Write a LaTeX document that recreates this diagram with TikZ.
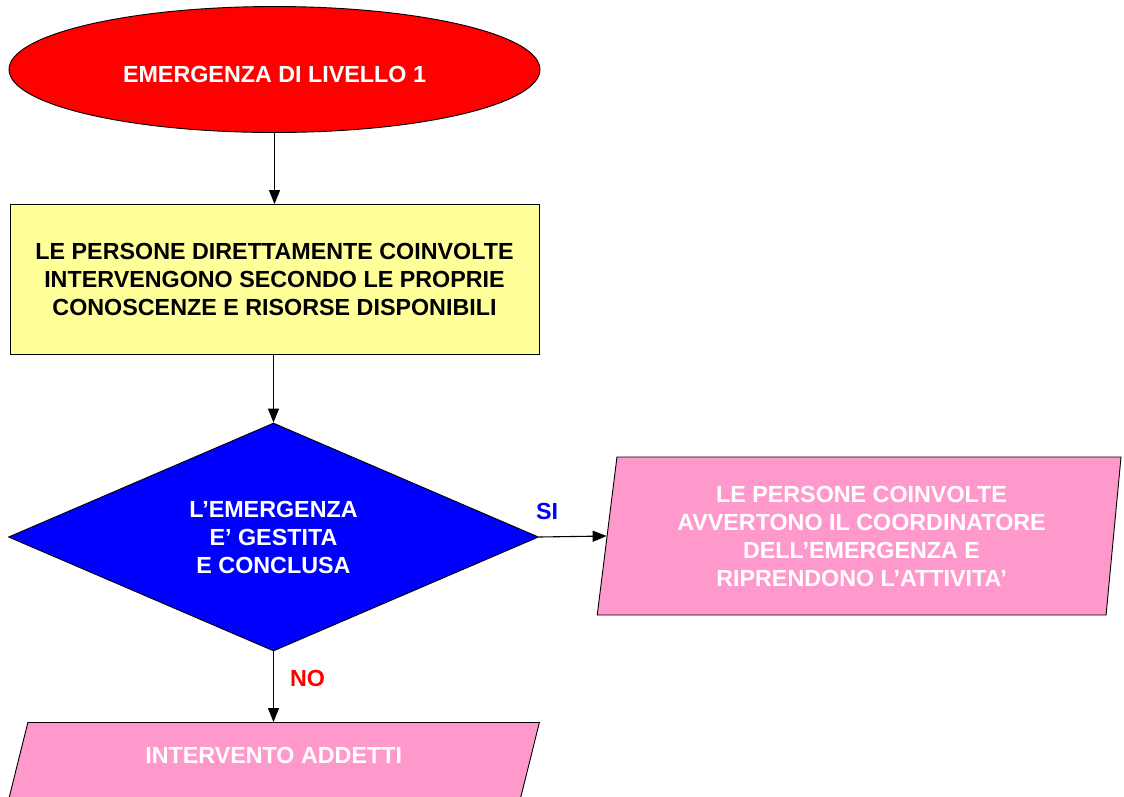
\documentclass[tikz,border=0pt]{standalone}
\usepackage{fontspec}
\setmainfont{Liberation Sans}
\usetikzlibrary{shapes.geometric,arrows.meta}
\definecolor{giallo}{HTML}{FFFF99}
\definecolor{rosa}{HTML}{FF99CC}
\begin{document}
\begin{tikzpicture}[x=1pt,y=-1pt,
  testo/.style={font=\fontsize{23.3}{28}\selectfont\bfseries, align=center, inner sep=0pt},
  blocco/.style={testo, draw=black, line width=0.9pt},
  parall/.style={blocco, trapezium, trapezium stretches=true, fill=rosa, text=white},
  freccia/.style={-{Triangle[length=14pt,width=11pt]}, line width=1.1pt}]
\clip (0,0) rectangle (1124,796);
\node[blocco, ellipse, fill=red, text=white, minimum width=531pt, minimum height=126pt,
  text height=25pt, text depth=0pt] (livello) at (274.5,69.5) {EMERGENZA DI LIVELLO 1};
\node[blocco, rectangle, fill=giallo, minimum width=529pt, minimum height=150pt] (persone) at (274.5,279.5)
  {LE PERSONE DIRETTAMENTE COINVOLTE\\INTERVENGONO SECONDO LE PROPRIE\\CONOSCENZE E RISORSE DISPONIBILI};
\node[blocco, diamond, aspect=2.32, fill=blue, text=white, minimum width=530pt, minimum height=228pt] (gestita) at (273.5,537)
  {L'EMERGENZA\\E' GESTITA\\E CONCLUSA};
\node[parall, trapezium left angle=81.6, trapezium right angle=96.4, minimum width=524pt, minimum height=158pt] (avvertono) at (861.5,536)
  {LE PERSONE COINVOLTE\\AVVERTONO IL COORDINATORE\\DELL'EMERGENZA E\\RIPRENDONO L'ATTIVITA'};
\node[parall, trapezium left angle=72.5, trapezium right angle=107.5, minimum width=531.7pt, minimum height=80pt,
  text height=17pt, text depth=16pt] (addetti) at (273.65,762.5) {INTERVENTO ADDETTI};
% connettori
\draw[freccia] (livello.south) -- (persone.north);
\draw[freccia] (persone.south -| gestita.north) -- (gestita.north);
\draw[freccia] (gestita.east) -- node[testo, pos=0.12, above=17pt, text=blue] (si) {SI} (avvertono.west);
\draw[freccia] (gestita.south) -- node[testo, pos=0.38, right=16pt, text=red] (no) {NO} (gestita.south |- addetti.north);
\end{tikzpicture}
\end{document}
